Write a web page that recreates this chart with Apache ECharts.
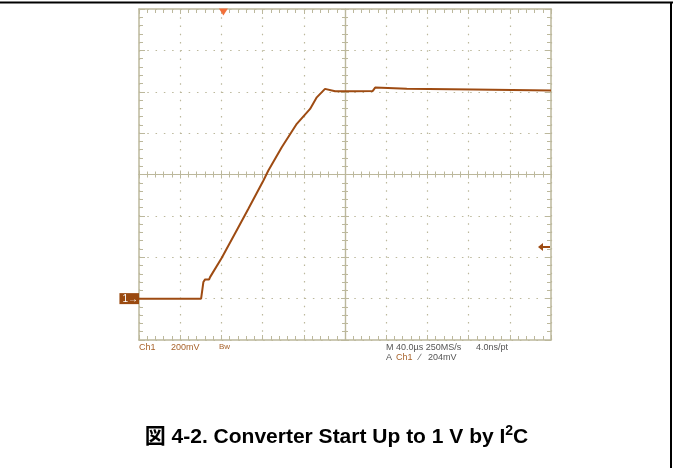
<!DOCTYPE html>
<html>
<head>
<meta charset="utf-8">
<script src="https://cdn.jsdelivr.net/npm/echarts/dist/echarts.min.js"></script>
<style>
  html, body { margin: 0; padding: 0; background: #fff; }
  #chartRoot { width: 673px; height: 468px; }
</style>
</head>
<body>
<div id="chartRoot"></div>
<script>
// scope trace: time in us (0 = trigger), Ch1 in volts
const timeUs = [-80, -19.7, -17.5, -15.8, -11.9, -11.0, 0.4, 16.5, 26.2, 40.8, 45.6, 58.6,
  73.2, 86.1, 92.6, 100.6, 110.4, 129.8, 147.0, 149.3, 180, 244.4, 320];
const ch1Volts = [0, 0, 0.08, 0.093, 0.093, 0.104, 0.198, 0.345, 0.434, 0.571, 0.619, 0.732,
  0.845, 0.917, 0.973, 1.014, 1.002, 1.002, 1.004, 1.02, 1.015, 1.011, 1.006];

// 10 x 8 graticule, 40us/div and 200mV/div
const timeRange = [-80, 320];
const timeStep = 40;
const voltRange = [-0.2, 1.4];
const voltStep = 0.2;
const triggerTime = 0;
const triggerLevel = 0.25;

const infoLeft = ["Ch1", "200mV", "Bw"];
const infoRight = ["M 40.0\u00b5s 250MS/s", "4.0ns/pt", "A", "Ch1", "\u2215", "204mV"];
const titleText = "図 4-2. Converter Start Up to 1 V by I";

const gridColor = "#bcb89c";
const traceColor = "#9e4b12";
const labelBrown = "#a8632c";

const renderChart = () => {
  const chartDom = document.getElementById("chartRoot");
  const myChart = echarts.init(chartDom);

  const rect = { left: 139, top: 9, width: 412, height: 331 };

  const edgeX = (position, withSplit) => ({
    type: "value",
    gridIndex: 0,
    position,
    min: timeRange[0],
    max: timeRange[1],
    interval: timeStep,
    axisLine: { onZero: false, lineStyle: { color: gridColor, width: 1.5 } },
    axisTick: { show: true, inside: true, length: 5, lineStyle: { color: gridColor } },
    minorTick: { show: true, splitNumber: 5, length: 4, lineStyle: { color: gridColor } },
    axisLabel: { show: false },
    splitLine: {
      show: withSplit,
      lineStyle: { color: gridColor, type: [1.5, 6.74], width: 1.2 },
    },
  });

  const edgeY = (position, withSplit) => ({
    type: "value",
    gridIndex: 0,
    position,
    min: voltRange[0],
    max: voltRange[1],
    interval: voltStep,
    axisLine: { onZero: false, lineStyle: { color: gridColor, width: 1.5 } },
    axisTick: { show: true, inside: true, length: 6, lineStyle: { color: gridColor } },
    minorTick: { show: true, splitNumber: 5, length: 4, lineStyle: { color: gridColor } },
    axisLabel: {
      show: withSplit,
      margin: 0,
      formatter(value) {
        // ground marker of channel 1
        return Math.abs(value) < 1e-9 ? "{g|1\u2192}" : "";
      },
      rich: {
        g: {
          backgroundColor: "#9a4a10",
          color: "#fff",
          fontSize: 10,
          fontFamily: "Liberation Sans",
          padding: [1, 1, 0, 3],
          lineHeight: 11,
        },
      },
    },
    splitLine: {
      show: withSplit,
      lineStyle: { color: gridColor, type: [1.5, 6.78], width: 1.2 },
    },
  });

  const centerX = (position) => ({
    type: "value",
    gridIndex: 1,
    position,
    min: -5,
    max: 5,
    interval: 1,
    axisLine: { onZero: true, lineStyle: { color: gridColor, width: 1.2 } },
    axisTick: { show: true, inside: false, length: 4, lineStyle: { color: gridColor } },
    minorTick: { show: true, splitNumber: 5, length: 3, lineStyle: { color: gridColor } },
    axisLabel: { show: false },
    splitLine: { show: false },
  });

  const centerY = (position) => ({
    type: "value",
    gridIndex: 1,
    position,
    min: -4,
    max: 4,
    interval: 1,
    axisLine: { onZero: true, lineStyle: { color: gridColor, width: 1.2 } },
    axisTick: { show: true, inside: false, length: 4, lineStyle: { color: gridColor } },
    minorTick: { show: true, splitNumber: 5, length: 3, lineStyle: { color: gridColor } },
    axisLabel: { show: false },
    splitLine: { show: false },
  });

  const textFont = "Liberation Sans";
  const info = (text, x, y, color, size) => ({
    type: "text",
    left: x,
    top: y,
    silent: true,
    style: { text, fill: color, font: `${size || 9}px ${textFont}` },
  });

  const option = {
    animation: false,
    backgroundColor: "#fff",
    title: {
      text: `{t|${titleText}}{s|2}{t|C}`,
      left: "center",
      top: 419,
      textStyle: {
        rich: {
          t: { fontFamily: "Liberation Sans, Noto Sans CJK JP", fontSize: 21, fontWeight: "bold", color: "#000", lineHeight: 26 },
          s: { fontFamily: "Liberation Sans", fontSize: 14, fontWeight: "bold", color: "#000", verticalAlign: "top", lineHeight: 26 },
        },
      },
    },
    grid: [
      Object.assign({}, rect),
      Object.assign({}, rect),
    ],
    xAxis: [edgeX("bottom", true), edgeX("top", false), centerX("bottom"), centerX("top")],
    yAxis: [edgeY("left", true), edgeY("right", false), centerY("left"), centerY("right")],
    graphic: [
      { type: "line", shape: { x1: 0, y1: 2.5, x2: 673, y2: 2.5 }, style: { stroke: "#000", lineWidth: 2 } },
      { type: "line", shape: { x1: 671, y1: 2, x2: 671, y2: 468 }, style: { stroke: "#000", lineWidth: 2 } },
      info(infoLeft[0], 139, 343, labelBrown),
      info(infoLeft[1], 171, 343, labelBrown),
      info(infoLeft[2], 219, 343, labelBrown, 8),
      info(infoRight[0], 386, 343, "#555"),
      info(infoRight[1], 476, 343, "#555"),
      info(infoRight[2], 386, 353, "#555"),
      info(infoRight[3], 396, 353, labelBrown),
      info(infoRight[4], 419, 353, "#555"),
      info(infoRight[5], 428, 353, "#555"),
    ],
    series: [
      {
        name: "Ch1",
        type: "line",
        xAxisIndex: 0,
        yAxisIndex: 0,
        z: 5,
        symbol: "none",
        lineStyle: { color: traceColor, width: 2 },
        data: timeUs.map((t, i) => [t, ch1Volts[i]]),
        markPoint: {
          silent: true,
          data: [
            {
              // trigger position
              coord: [triggerTime, voltRange[1]],
              symbol: "triangle",
              symbolRotate: 180,
              symbolSize: [9, 7],
              symbolOffset: [2, 3],
              itemStyle: { color: "#f2703a" },
              label: { show: false },
            },
            {
              // trigger level arrow
              coord: [timeRange[1], triggerLevel],
              symbol: "path://M0,4 L5,0 L5,3 L12,3 L12,5 L5,5 L5,8 Z",
              symbolSize: [12, 8],
              symbolOffset: [-7, 0],
              itemStyle: { color: traceColor },
              label: { show: false },
            },
          ],
        },
      },
    ],
  };

  myChart.setOption(option);
};

renderChart();
</script>
</body>
</html>
